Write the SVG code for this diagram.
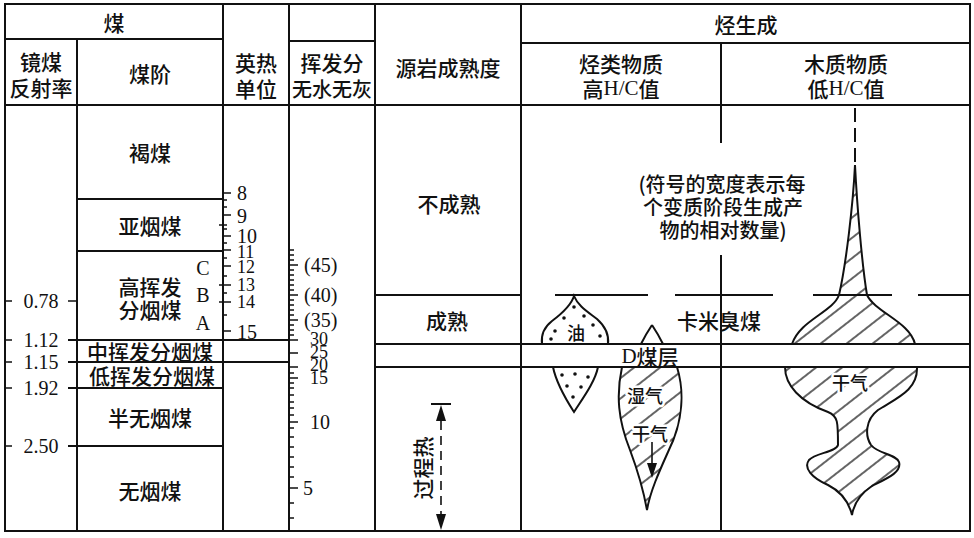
<svg xmlns="http://www.w3.org/2000/svg" width="974" height="538" viewBox="0 0 974 538">
  <style>
    .ln{stroke:#111;stroke-width:2;fill:none}
    .tk{stroke:#111;stroke-width:1.6;fill:none}
    .dash{stroke:#111;stroke-width:2;fill:none}
    .cj{font-family:"Noto Sans CJK SC",sans-serif;font-size:21px;font-weight:500;fill:#111;text-anchor:middle;dominant-baseline:central}
    .sm{font-size:18px}
    .sr{font-family:"Liberation Serif",serif}
    .num{font-family:"Liberation Serif",serif;font-size:20px;fill:#111;dominant-baseline:central}
    .tight{font-size:18px}
    .mid{text-anchor:middle}
    .shape{stroke:#111;stroke-width:2;fill:url(#hatch)}
    .dots{stroke:#111;stroke-width:2;fill:#fff}
    .halo{paint-order:stroke;stroke:#fff;stroke-width:5px;stroke-linejoin:round}
  </style>
  <defs>
    <pattern id="hatch" patternUnits="userSpaceOnUse" width="16" height="16" patternTransform="rotate(-38)">
      <line x1="0" y1="8" x2="16" y2="8" stroke="#111" stroke-width="1.3"/>
    </pattern>
  </defs>

  <rect width="974" height="538" fill="#fff"/>

  <!-- table frame and rulings -->
  <g id="grid">
    <rect class="ln" x="5" y="4" width="965" height="527"/>
    <path class="ln" d="M5,39 H223 M289,41 H375 M521,43 H970 M5,105 H970
      M77,39 V531 M223,4 V531 M289,4 V531 M375,4 V531 M521,4 V531
      M721,43 V143 M721,255 V531"/>
    <!-- coal rank rows -->
    <path class="ln" d="M77,199 H223 M77,251 H223 M68,340 H289 M68,362 H289 M68,388 H223 M68,446 H223"/>
    <!-- maturity rows -->
    <path class="ln" d="M375,295 H521 M375,344 H970 M375,367 H970"/>
    <!-- oil-window boundary -->
    <path class="dash" d="M555,295 H648 M675,295 H773 M813,295 H892 M918,295 H970"/>
  </g>

  <!-- header labels -->
  <g id="header">
    <text class="cj" x="114" y="22">煤</text>
    <text class="cj" x="41" y="61">镜煤</text>
    <text class="cj" x="41" y="87">反射率</text>
    <text class="cj" x="150" y="73">煤阶</text>
    <text class="cj" x="256" y="62">英热</text>
    <text class="cj" x="256" y="88">单位</text>
    <text class="cj" x="332" y="62">挥发分</text>
    <text class="cj" x="332" y="88" style="font-size:20px">无水无灰</text>
    <text class="cj" x="448" y="67">源岩成熟度</text>
    <text class="cj" x="746" y="24">烃生成</text>
    <text class="cj" x="621" y="63">烃类物质</text>
    <text class="cj" x="621" y="88">高<tspan class="sr">H/C</tspan>值</text>
    <text class="cj" x="846" y="63">木质物质</text>
    <text class="cj" x="846" y="88">低<tspan class="sr">H/C</tspan>值</text>
  </g>

  <!-- vitrinite reflectance scale -->
  <g id="reflectance">
    <path class="tk" d="M5,301 H12 M68,301 H77 M5,340 H12 M5,362 H12 M5,388 H12 M5,446 H12"/>
    <text class="num mid" x="41" y="301">0.78</text>
    <text class="num mid" x="41" y="340">1.12</text>
    <text class="num mid" x="41" y="362">1.15</text>
    <text class="num mid" x="41" y="388">1.92</text>
    <text class="num mid" x="41" y="446">2.50</text>
  </g>

  <!-- coal rank names -->
  <g id="coal-rank">
    <text class="cj" x="150" y="152">褐煤</text>
    <text class="cj" x="150" y="225">亚烟煤</text>
    <text class="cj" x="150" y="286">高挥发</text>
    <text class="cj" x="150" y="309">分烟煤</text>
    <text class="cj" x="150" y="351">中挥发分烟煤</text>
    <text class="cj" x="152" y="375">低挥发分烟煤</text>
    <text class="cj" x="150" y="417">半无烟煤</text>
    <text class="cj" x="150" y="490">无烟煤</text>
    <text class="num mid" x="203" y="268">C</text>
    <text class="num mid" x="203" y="295">B</text>
    <text class="num mid" x="203" y="323">A</text>
  </g>

  <!-- BTU scale -->
  <g id="btu-scale">
    <path class="tk" d="M223,193 h8 M223,200 h4 M223,207 h4 M223,215 h8 M219,225 h8 M223,229 h4 M223,236 h8 M223,243 h4
      M223,250 h8 M223,258 h4 M223,266 h8 M223,276 h4 M219,285 h12 M223,293 h4 M219,302 h12 M223,315 h4 M223,331 h8"/>
    <text class="num" x="237" y="193">8</text>
    <text class="num" x="237" y="216">9</text>
    <text class="num" x="237" y="236">10</text>
    <text class="num tight" x="237" y="252">11</text>
    <text class="num tight" x="237" y="267">12</text>
    <text class="num tight" x="237" y="285">13</text>
    <text class="num tight" x="237" y="302">14</text>
    <text class="num" x="237" y="332">15</text>
  </g>

  <!-- volatile matter scale -->
  <g id="volatile-scale">
    <path class="tk" d="M289,250 h5 M289,255 h5 M289,260 h5 M289,265 h9 M289,270 h5 M289,275 h5 M289,280 h5 M289,285 h5 M289,290 h5
      M289,295 h9 M289,300 h5 M289,305 h5 M289,310 h5 M289,315 h5 M289,320 h9 M289,325 h5 M289,330 h5 M289,335 h5 M289,340 h9
      M289,353 h9 M289,367 h9 M289,373 h5 M289,378 h9 M289,383 h5 M289,388 h5 M289,395 h5 M289,402 h5 M289,408 h5 M289,415 h5
      M289,422 h9 M289,428 h5 M289,437 h5 M289,447 h5 M289,457 h5 M289,467 h5 M289,477 h5 M289,488 h9 M289,503 h5 M289,518 h5"/>
    <text class="num" x="304" y="265">(45)</text>
    <text class="num" x="304" y="295">(40)</text>
    <text class="num" x="304" y="320">(35)</text>
    <text class="num tight" x="310" y="339">30</text>
    <text class="num tight" x="310" y="352">25</text>
    <text class="num tight" x="310" y="365">20</text>
    <text class="num tight" x="310" y="378">15</text>
    <text class="num" x="310" y="422">10</text>
    <text class="num" x="303" y="488">5</text>
  </g>

  <!-- source rock maturity -->
  <g id="maturity">
    <text class="cj" x="449" y="203">不成熟</text>
    <text class="cj" x="447" y="320">成熟</text>
    <path class="ln" d="M431,404 H451"/>
    <path d="M441,405 L436,421 L446,421 Z" fill="#111"/>
    <path class="tk" d="M441,421 V514" stroke-dasharray="9 6"/>
    <path d="M441,530 L436,514 L446,514 Z" fill="#111"/>
    <text class="cj" transform="translate(422,468) rotate(-90)">过程热</text>
  </g>

  <!-- oil -->
  <g id="oil">
    <path class="dots" d="M574,296 C571,306 560,315 552,321 C543,328 541,336 542,344 L608,344 C609,336 606,327 597,319 C588,312 578,306 574,296 Z"/>
    <path class="dots" d="M553,367 L598,367 C595,382 583,398 574,412 C565,398 556,382 553,367 Z"/>
    <g fill="#111">
      <circle cx="564" cy="318" r="1.8"/><circle cx="584" cy="316" r="1.8"/>
      <circle cx="555" cy="331" r="1.8"/><circle cx="593" cy="325" r="1.8"/>
      <circle cx="551" cy="339" r="1.8"/><circle cx="600" cy="336" r="1.8"/>
      <circle cx="574" cy="307" r="1.8"/>
      <circle cx="562" cy="375" r="1.8"/><circle cx="575" cy="374" r="1.8"/><circle cx="588" cy="377" r="1.8"/>
      <circle cx="567" cy="386" r="1.8"/><circle cx="581" cy="387" r="1.8"/>
      <circle cx="573" cy="397" r="1.8"/>
    </g>
    <text class="cj sm" x="576" y="332">油</text>
  </g>

  <!-- wet gas -->
  <g id="wet-gas">
    <path class="ln" d="M652,325 C656,331 660,338 663,344 M652,325 C648,331 644,338 641,344"/>
    <path class="shape" d="M622,367 L677,367 C684,390 684,420 668,452 C659,472 650,492 647,510 C643,488 636,466 630,450 C618,420 616,395 622,367 Z"/>
    <text class="cj sm halo" x="645" y="395">湿气</text>
    <text class="cj sm halo" x="650" y="433">干气</text>
    <path class="tk" d="M652,442 V464"/>
    <path d="M647,463 L657,463 L652,478 Z" fill="#111"/>
  </g>

  <!-- dry gas from woody matter -->
  <g id="dry-gas">
    <path class="dash" d="M855,108 V163" stroke-dasharray="14 6"/>
    <path class="shape" d="M855,165 C853,205 846,265 839,295 C833,312 800,320 792,344 L915,344 C910,322 875,312 867,295 C862,265 857,205 855,165 Z"/>
    <path class="shape" d="M785,367 L917,367 C918,390 897,398 878,410 C865,420 865,436 871,445 C878,454 896,454 899,462 C902,472 888,478 872,486 C860,494 854,503 852,515 C849,503 842,492 828,485 C812,478 803,468 809,460 C815,453 836,452 838,445 C838,422 838,416 828,412 C800,402 785,385 785,367 Z"/>
    <text class="cj sm halo" x="850" y="382">干气</text>
  </g>

  <!-- labels in the generation panel -->
  <g id="notes">
    <text class="cj" x="719" y="320">卡米臭煤</text>
    <text class="cj" x="650" y="356"><tspan class="sr">D</tspan>煤层</text>
    <text class="cj" x="722" y="183" style="font-size:20px">(符号的宽度表示每</text>
    <text class="cj" x="723" y="206" style="font-size:20px">个变质阶段生成产</text>
    <text class="cj" x="723" y="229" style="font-size:20px">物的相对数量)</text>
  </g>
</svg>
